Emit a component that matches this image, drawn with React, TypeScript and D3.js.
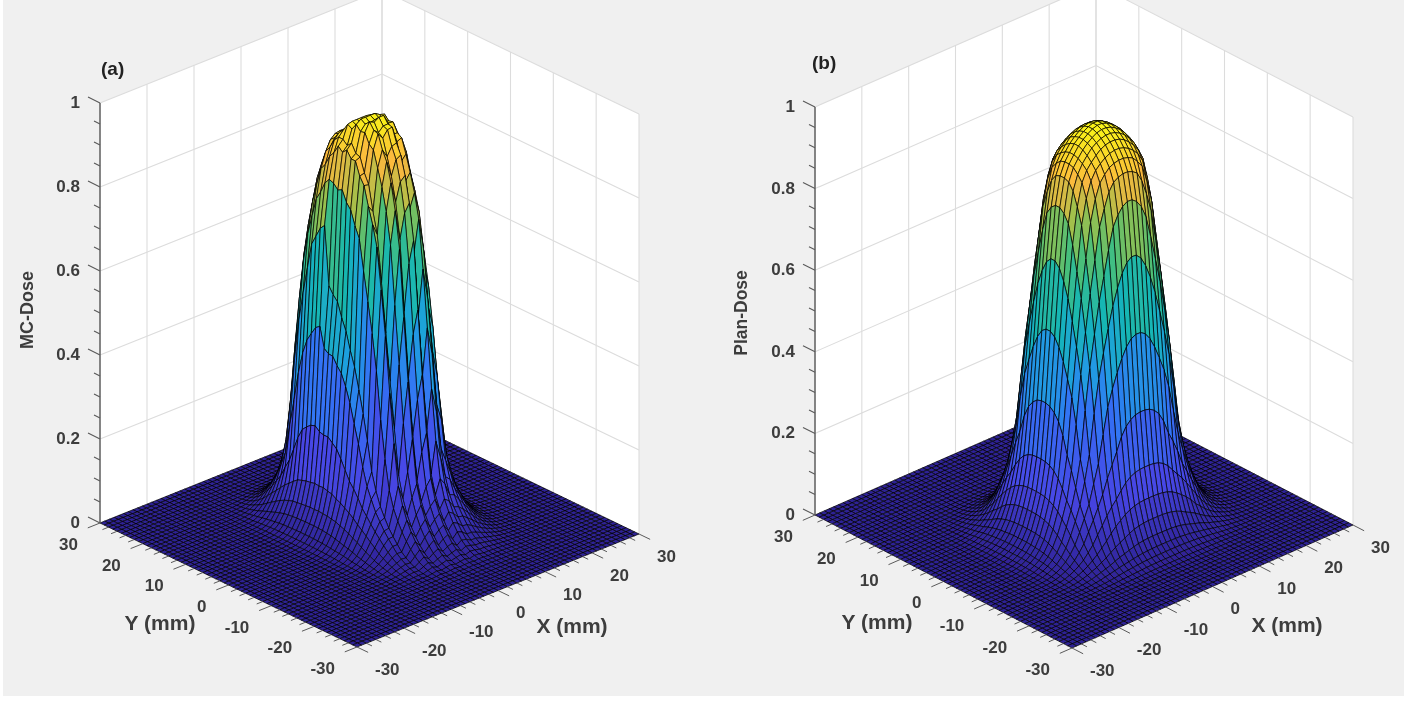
import React, { useEffect, useRef } from "react";
import * as d3 from "d3";

// grid nodes, one per mm
const gridMm = d3.range(-30, 31);
const xyTicks = [-30, -20, -10, 0, 10, 20, 30];
const xyMinorTicks = d3.range(-30, 31, 2);
const zTicks = [0, 0.2, 0.4, 0.6, 0.8, 1];
const zMinorTicks = d3.range(0, 1.001, 0.05);

// dose read against distance from the beam axis, 0..24 mm
const radiusMm = d3.range(0, 25);
const radialPlan = [.975, .972, .965, .955, .943, .925, .905, .87, .78, .61, .41, .24, .15, .1, .06, .035, .02, .011, .005, .002, .0005, 0, 0, 0, 0];
const radialMc = [1, 1, 1, 1, .995, .98, .95, .91, .84, .74, .52, .32, .17, .11, .075, .05, .03, .017, .009, .004, .002, .001, 0, 0, 0];
// MC crest falls off towards +y, y = -30..30
const mcTilt = [
  .985, .985, .985, .985, .985, .985, .985, .985, .985, .985, .985, .985, .985, .985, .985, .985, .985, .985, .985, .985, .985, .985, .985, .985, .985, .985, .98, .975, .985,
  .97, .975, .96, .965, .945, .95, .93, .92, .905, .905, .89, .88, .87, .86,
  .86, .86, .86, .86, .86, .86, .86, .86, .86, .86, .86, .86, .86, .86, .86, .86, .86, .86,
];
// extra distance on the MC front flank at each x, x = -30..30, gives the jagged ridges
const mcFrontRidge = [
  0, 0, 0, 0, 0, 0, 0, 0, 0, 0, 0, 0, 0, 0, 0, 0, 0, 0, 0, 0, 0, 0, 0,
  .1, .3, .9, .3, -.1, .8, .2, -.2, .6, .1, -.2, .5, -.2, -.1, .2, 0, 0,
  0, 0, 0, 0, 0, 0, 0, 0, 0, 0, 0, 0, 0, 0, 0, 0, 0, 0, 0, 0, 0,
];

const parulaStops = [0, .125, .25, .375, .5, .625, .75, .875, 1];
const parulaColors = ["#2f2396", "#4747e6", "#3373f5", "#1f9fe0", "#17b6b4", "#45bf7c", "#9ec04c", "#fbb83e", "#f9f518"];

// the field is round near the top and gets squarer corners lower down
const shapeRadius = [6, 8, 9, 10, 11];
const shapePower = [2, 2.1, 2.25, 2.5, 2.8];

type Beam = {
  radial: number[]; cx: number; cy: number;
  sxMinus: number; sxPlus: number; syMinus: number; syPlus: number;
  tilt?: number[]; ridge?: number[];
};

function doseMatrix(b: Beam) {
  const at = d3.scaleLinear().domain(radiusMm).range(b.radial).clamp(true);
  const power = d3.scaleLinear().domain(shapeRadius).range(shapePower).clamp(true);
  return gridMm.map((x, i) =>
    gridMm.map((y, j) => {
      const dx = Math.abs(x - b.cx) / (x < b.cx ? b.sxMinus : b.sxPlus);
      const dy = Math.abs(y - b.cy) / (y < b.cy ? b.syMinus : b.syPlus);
      const p = power(Math.hypot(dx, dy));
      const r = Math.pow(Math.pow(dx, p) + Math.pow(dy, p), 1 / p);
      const extra = b.ridge && y < b.cy ? b.ridge[i] : 0;
      return at(r + extra) * (b.tilt ? b.tilt[j] : 1);
    })
  );
}

const panels = [
  {
    tag: "(a)", tagAt: [101, 68], zLabel: "MC-Dose", zLabelX: 27, zLabelY: 310, zLabelSize: 18,
    left: [100, 523], bottom: [357, 647], right: [639, 534], height: 420,
    yTitle: [160, 623], xTitle: [572, 626],
    dose: doseMatrix({ radial: radialMc, cx: 1.5, cy: 5, sxMinus: 0.75, sxPlus: 0.88, syMinus: 1.3, syPlus: 0.92, tilt: mcTilt, ridge: mcFrontRidge }),
  },
  {
    tag: "(b)", tagAt: [812, 62], zLabel: "Plan-Dose", zLabelX: 741, zLabelY: 313, zLabelSize: 17.5,
    left: [815, 515], bottom: [1072, 648], right: [1353, 525], height: 408,
    yTitle: [877, 622], xTitle: [1287, 625],
    dose: doseMatrix({ radial: radialPlan, cx: 1.4, cy: -1.5, sxMinus: 1.1, sxPlus: 1.1, syMinus: 1, syPlus: 1 }),
  },
];

const font = "'Liberation Sans', Arial, sans-serif";

function drawPanel(root: any, p: (typeof panels)[number]) {
  const t = d3.scaleLinear().domain([-30, 30]).range([0, 1]);
  const zs = d3.scaleLinear().domain([0, 1]).range([0, p.height]);
  const proj = (x: number, y: number, z: number): [number, number] => [
    p.bottom[0] + t(x) * (p.right[0] - p.bottom[0]) + t(y) * (p.left[0] - p.bottom[0]),
    p.bottom[1] + t(x) * (p.right[1] - p.bottom[1]) + t(y) * (p.left[1] - p.bottom[1]) - zs(z),
  ];
  const line = d3.line();
  const poly = (pts: [number, number][]) => line(pts) + "Z";

  // walls
  root.append("path").attr("fill", "#fff")
    .attr("d", poly([proj(-30, 30, 0), proj(-30, 30, 1), proj(30, 30, 1), proj(30, -30, 1), proj(30, -30, 0), proj(30, 30, 0)]));
  const grid = root.append("g").attr("stroke", "#dcdcdc").attr("stroke-width", 1.1).attr("fill", "none");
  xyTicks.forEach((v) => {
    grid.append("path").attr("d", line([proj(v, 30, 0), proj(v, 30, 1)]));
    grid.append("path").attr("d", line([proj(30, v, 0), proj(30, v, 1)]));
  });
  zTicks.forEach((z) => {
    grid.append("path").attr("d", line([proj(-30, 30, z), proj(30, 30, z), proj(30, -30, z)]));
  });

  // surface, back corner first
  const zMax = d3.max(p.dose.flat()) as number;
  const color = d3.scaleLinear<string>().domain(parulaStops.map((s) => s * zMax)).range(parulaColors).clamp(true);
  const faces: { d: string; z: number }[] = [];
  for (let i = gridMm.length - 2; i >= 0; i--) {
    for (let j = gridMm.length - 2; j >= 0; j--) {
      const x0 = gridMm[i], x1 = gridMm[i + 1], y0 = gridMm[j], y1 = gridMm[j + 1];
      faces.push({
        z: p.dose[i][j],
        d: poly([
          proj(x0, y0, p.dose[i][j]),
          proj(x1, y0, p.dose[i + 1][j]),
          proj(x1, y1, p.dose[i + 1][j + 1]),
          proj(x0, y1, p.dose[i][j + 1]),
        ]),
      });
    }
  }
  root.append("g").attr("stroke", "#000").attr("stroke-width", 0.7).attr("stroke-linejoin", "round")
    .selectAll("path").data(faces).join("path")
    .attr("d", (f: any) => f.d).attr("fill", (f: any) => color(f.z));

  // axes
  const axis = root.append("g").attr("stroke", "#5a5a5a").attr("fill", "none");
  axis.append("path").attr("stroke-width", 1.4).attr("d", line([proj(-30, 30, 0), proj(-30, 30, 1)]));
  zMinorTicks.forEach((z, k) => {
    const [a, b] = proj(-30, 30, z);
    const f = k % 4 === 0 ? 1 : 0.5;
    axis.append("path").attr("stroke-width", 1.1).attr("d", line([[a, b], [a - 12 * f, b - 6 * f]]));
  });
  xyMinorTicks.forEach((v) => {
    const f = v % 10 === 0 ? 2.6 : 1.3;
    axis.append("path").attr("stroke-width", 1).attr("d", line([proj(-30, v, 0), proj(-30 - f, v, 0)]));
    axis.append("path").attr("stroke-width", 1).attr("d", line([proj(v, -30, 0), proj(v, -30 - f, 0)]));
  });

  const label = root.append("g").attr("font-family", font).attr("font-weight", 700).attr("fill", "#3c3c3c");
  zTicks.forEach((z) => {
    const [a, b] = proj(-30, 30, z);
    label.append("text").attr("x", a - 20).attr("y", b - 1).attr("dy", ".35em").attr("text-anchor", "end")
      .attr("font-size", 17).text(z);
  });
  xyTicks.forEach((v) => {
    const [ya, yb] = proj(-30, v, 0);
    label.append("text").attr("x", ya - 22).attr("y", yb + 21).attr("dy", ".35em").attr("text-anchor", "end")
      .attr("font-size", 17).text(v);
    const [xa, xb] = proj(v, -30, 0);
    label.append("text").attr("x", xa + 18).attr("y", xb + 22).attr("dy", ".35em").attr("text-anchor", "start")
      .attr("font-size", 17).text(v);
  });
  label.append("text").attr("x", p.yTitle[0]).attr("y", p.yTitle[1]).attr("dy", ".35em").attr("text-anchor", "middle")
    .attr("font-size", 21).text("Y (mm)");
  label.append("text").attr("x", p.xTitle[0]).attr("y", p.xTitle[1]).attr("dy", ".35em").attr("text-anchor", "middle")
    .attr("font-size", 21).text("X (mm)");
  label.append("text").attr("transform", `translate(${p.zLabelX},${p.zLabelY}) rotate(-90)`).attr("dy", ".35em")
    .attr("text-anchor", "middle").attr("font-size", p.zLabelSize).text(p.zLabel);
  root.append("text").attr("x", p.tagAt[0]).attr("y", p.tagAt[1]).attr("dy", ".35em")
    .attr("font-family", font).attr("font-weight", 700).attr("font-size", 19).attr("fill", "#222").text(p.tag);
}

export default function App() {
  const ref = useRef<SVGSVGElement>(null);
  useEffect(() => {
    const svg = d3.select(ref.current);
    svg.selectAll("*").remove();
    svg.append("defs").append("filter").attr("id", "soft")
      .append("feGaussianBlur").attr("stdDeviation", 0.45);
    svg.append("rect").attr("width", 1407).attr("height", 704).attr("fill", "#fff");
    svg.append("rect").attr("x", 3).attr("width", 1401).attr("height", 696).attr("fill", "#f0f0f0");
    const g = svg.append("g").attr("filter", "url(#soft)");
    panels.forEach((p) => drawPanel(g.append("g"), p));
  }, []);
  return <svg ref={ref} width={1407} height={704} style={{ position: "absolute", left: 0, top: 0 }} />;
}
